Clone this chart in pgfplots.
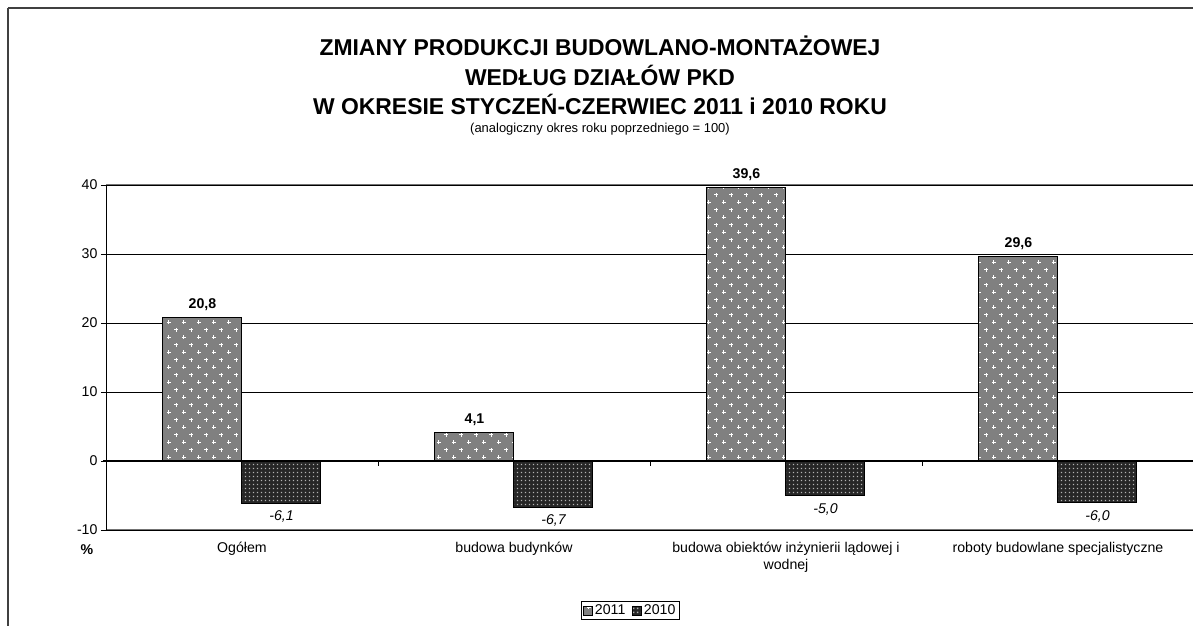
\documentclass[border=0pt]{standalone}
\usepackage{pgfplots}
\pgfplotsset{compat=1.18}
\usepackage{pgfplotstable}
\usepackage{fontspec}
\setmainfont{Liberation Sans}
\usetikzlibrary{patterns}

\pgfdeclarepatternformonly{wcross}{\pgfqpoint{-1bp}{-1bp}}{\pgfqpoint{16bp}{16bp}}{\pgfqpoint{15bp}{15bp}}{%
  \pgfsetlinewidth{1.1bp}%
  \pgfpathmoveto{\pgfqpoint{1.75bp}{3.75bp}}\pgfpathlineto{\pgfqpoint{5.75bp}{3.75bp}}%
  \pgfpathmoveto{\pgfqpoint{3.75bp}{1.75bp}}\pgfpathlineto{\pgfqpoint{3.75bp}{5.75bp}}%
  \pgfpathmoveto{\pgfqpoint{9.25bp}{11.25bp}}\pgfpathlineto{\pgfqpoint{13.25bp}{11.25bp}}%
  \pgfpathmoveto{\pgfqpoint{11.25bp}{9.25bp}}\pgfpathlineto{\pgfqpoint{11.25bp}{13.25bp}}%
  \pgfusepath{stroke}}
\pgfdeclarepatternformonly{dgrid}{\pgfpointorigin}{\pgfqpoint{4bp}{4bp}}{\pgfqpoint{4bp}{4bp}}{%
  \pgfpathrectangle{\pgfqpoint{1bp}{1bp}}{\pgfqpoint{1.7bp}{1.7bp}}%
  \pgfusepath{fill}}

\pgfplotstableread{
x y label
0 20.8 20,8
1 4.1 4,1
2 39.6 39,6
3 29.6 29,6
}\dataA
\pgfplotstableread{
x y label
0 -6.1 -6,1
1 -6.7 -6,7
2 -5.0 -5,0
3 -6.0 -6,0
}\dataB

\newcommand{\lab}{\fontsize{14.2}{17}\selectfont}

\begin{document}
\begin{tikzpicture}[x=1bp,y=1bp]
\begin{axis}[
  at={(0,0)}, anchor=south west,
  width=1088bp, height=345bp, scale only axis,
  clip=false,
  ymin=-10, ymax=40, xmin=-0.5, xmax=3.5,
  ytick={-10,0,10,20,30,40},
  xtick={0,1,2,3},
  xticklabels={Ogółem, budowa budynków, {budowa obiektów inżynierii lądowej i\\wodnej}, roboty budowlane specjalistyczne},
  xtick style={draw=none},
  ytick align=outside,
  major tick length=5bp,
  ytick style={black, line width=0.8bp},
  axis line style={draw=none},
  ymajorgrids, grid style={black, line width=0.8bp},
  /pgf/number format/assume math mode=true,
  tick label style={font=\lab},
  xticklabel style={align=center, yshift=-4bp},
  ybar=0pt, bar width=79bp,
  legend columns=2,
  legend style={at={(axis description cs:0.482,-0.205)}, anchor=north, draw=black, line width=0.8bp, font=\lab, inner sep=1.5bp, /tikz/every even column/.append style={column sep=5bp}},
  legend image code/.code={\draw[#1, line width=0.6bp] (0bp,-4.5bp) rectangle (9bp,4.5bp);},
  nodes near coords, point meta=explicit symbolic,
]
\addplot[draw=black, line width=1bp, fill=black!50, postaction={pattern=wcross, pattern color=white},
  every node near coord/.append style={font=\lab\bfseries, anchor=south, yshift=3bp}]
  table[x=x, y=y, meta=label] {\dataA};
\addplot[draw=black, line width=1bp, fill=black!85, postaction={pattern=dgrid, pattern color=black!30},
  every node near coord/.append style={font=\lab\itshape, anchor=north, yshift=-4bp}]
  table[x=x, y=y, meta=label] {\dataB};
\legend{2011, 2010}
\draw[black!55, line width=1bp] (axis cs:-0.5,40) -- (axis cs:3.5,40);
\draw[black!55, line width=1bp] (axis cs:-0.5,-10) -- (axis cs:3.5,-10);
\draw[black, line width=0.9bp] (axis cs:-0.5,-10) -- (axis cs:-0.5,40);
\draw[black, line width=2.2bp] ([xshift=-3bp]axis cs:-0.5,0) -- (axis cs:3.5,0);
\draw[black, line width=0.8bp] (axis cs:0.5,0) -- ([yshift=-5bp]axis cs:0.5,0);
\draw[black, line width=0.8bp] (axis cs:1.5,0) -- ([yshift=-5bp]axis cs:1.5,0);
\draw[black, line width=0.8bp] (axis cs:2.5,0) -- ([yshift=-5bp]axis cs:2.5,0);
\end{axis}
\draw[black!75, line width=2bp] (-98,522) -- (1400,522);
\draw[black!75, line width=2bp] (-98,522) -- (-98,-300);
\node[font=\lab\bfseries] at (-19,-20) {\%};
\node[font=\bfseries\fontsize{23}{28}\selectfont] at (494,484) {ZMIANY PRODUKCJI BUDOWLANO-MONTAŻOWEJ};
\node[font=\bfseries\fontsize{23}{28}\selectfont] at (494,455) {WEDŁUG DZIAŁÓW PKD};
\node[font=\bfseries\fontsize{23}{28}\selectfont] at (494,426) {W OKRESIE STYCZEŃ-CZERWIEC 2011 i 2010 ROKU};
\node[font=\fontsize{13}{15}\selectfont] at (494,401) {(analogiczny okres roku poprzedniego = 100)};
\pgfresetboundingbox
\path[use as bounding box] (-106,-96) rectangle (1087,530);
\end{tikzpicture}
\end{document}
